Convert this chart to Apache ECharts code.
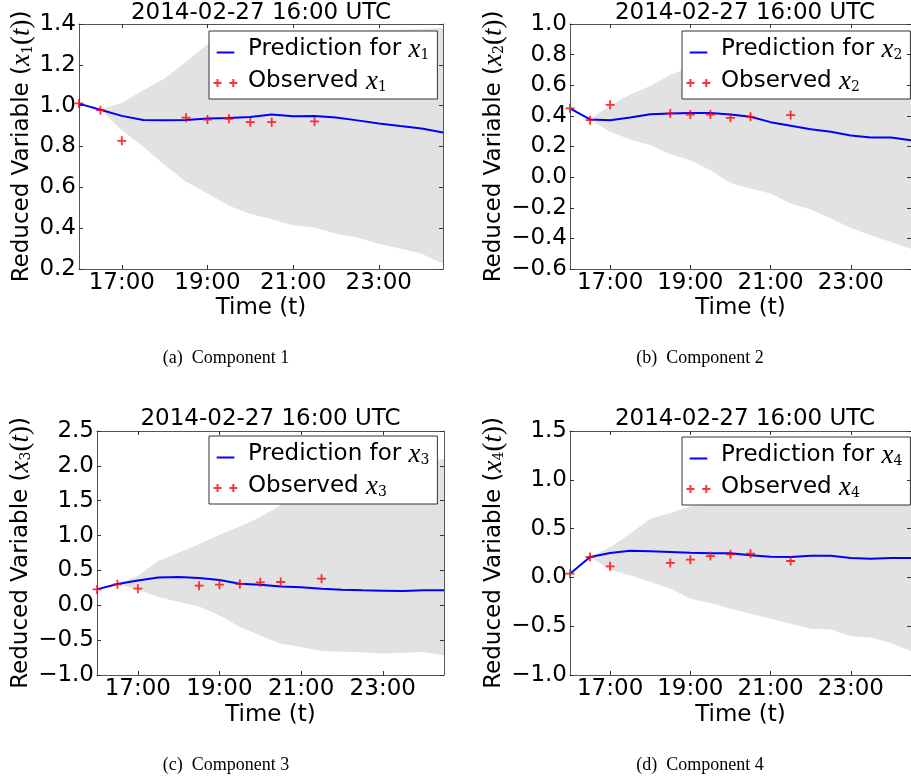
<!DOCTYPE html>
<html>
<head>
<meta charset="utf-8">
<script src="https://cdn.jsdelivr.net/npm/echarts@6/dist/echarts.min.js"></script>
<style>
html, body { margin: 0; padding: 0; background: #fff; }
#chart { width: 911px; height: 780px; }
</style>
</head>
<body>
<div id="chart"></div>
<script>
// Half-hourly forecast times starting at 16:00 UTC
const times = ['16:00', '16:30', '17:00', '17:30', '18:00', '18:30', '19:00', '19:30', '20:00',
  '20:30', '21:00', '21:30', '22:00', '22:30', '23:00', '23:30', '00:00', '00:30'];
const labelledTimes = ['17:00', '19:00', '21:00', '23:00'];
const obsTimes = ['16:00', '16:30', '17:00', '18:30', '19:00', '19:30', '20:00', '20:30', '21:30'];

// Component 1
const pred1 = [1.01, 0.98, 0.95, 0.93, 0.928, 0.93, 0.937, 0.94, 0.945, 0.957, 0.948, 0.949, 0.942, 0.928, 0.913, 0.9, 0.888, 0.869];
const lower1 = [1.01, 0.98, 0.88, 0.80, 0.71, 0.627, 0.57, 0.51, 0.47, 0.444, 0.414, 0.403, 0.373, 0.354, 0.324, 0.30, 0.275, 0.226];
const upper1 = [1.01, 0.98, 1.014, 1.076, 1.133, 1.215, 1.30, 1.32, 1.33, 1.34, 1.345, 1.355, 1.36, 1.365, 1.37, 1.372, 1.375, 1.38];
const obs1 = [1.011, 0.978, 0.828, 0.941, 0.932, 0.936, 0.919, 0.919, 0.923];

// Component 2
const pred2 = [0.449, 0.377, 0.372, 0.39, 0.411, 0.416, 0.418, 0.418, 0.409, 0.394, 0.359, 0.335, 0.313, 0.296, 0.272, 0.259, 0.259, 0.241];
const lower2 = [0.449, 0.377, 0.296, 0.246, 0.209, 0.15, 0.11, 0.045, -0.038, -0.075, -0.107, -0.173, -0.212, -0.271, -0.332, -0.38, -0.423, -0.467];
const upper2 = [0.449, 0.377, 0.47, 0.54, 0.595, 0.667, 0.72, 0.75, 0.77, 0.79, 0.80, 0.81, 0.82, 0.83, 0.84, 0.85, 0.86, 0.87];
const obs2 = [0.449, 0.372, 0.472, 0.416, 0.409, 0.409, 0.387, 0.394, 0.405];

// Component 3
const pred3 = [0.228, 0.305, 0.357, 0.40, 0.405, 0.39, 0.362, 0.31, 0.295, 0.271, 0.257, 0.238, 0.224, 0.214, 0.209, 0.204, 0.214, 0.214];
const lower3 = [0.228, 0.305, 0.224, 0.118, 0.047, -0.016, -0.145, -0.312, -0.432, -0.551, -0.60, -0.656, -0.666, -0.675, -0.695, -0.68, -0.67, -0.718];
const upper3 = [0.228, 0.305, 0.42, 0.635, 0.754, 0.874, 1.013, 1.13, 1.266, 1.44, 1.6, 1.72, 1.82, 1.9, 1.96, 2.02, 2.07, 2.10];
const obs3 = [0.228, 0.30, 0.238, 0.281, 0.295, 0.305, 0.329, 0.334, 0.381];

// Component 4
const pred4 = [0.038, 0.209, 0.25, 0.274, 0.267, 0.26, 0.253, 0.247, 0.247, 0.226, 0.212, 0.209, 0.223, 0.223, 0.199, 0.192, 0.199, 0.199];
const lower4 = [0.038, 0.209, 0.079, 0.021, -0.047, -0.115, -0.218, -0.262, -0.32, -0.372, -0.423, -0.474, -0.525, -0.535, -0.604, -0.617, -0.672, -0.754];
const upper4 = [0.038, 0.209, 0.31, 0.448, 0.602, 0.66, 0.728, 0.75, 0.77, 0.79, 0.80, 0.81, 0.82, 0.83, 0.84, 0.85, 0.86, 0.87];
const obs4 = [0.038, 0.209, 0.113, 0.148, 0.182, 0.219, 0.236, 0.243, 0.168];

const titleText = '2014-02-27 16:00 UTC';
const captions = ['(a)  Component 1', '(b)  Component 2', '(c)  Component 3', '(d)  Component 4'];

// Layout of the four panels
const panels = [
  { k: 1, pred: pred1, lo: lower1, hi: upper1, obs: obs1, min: 0.2, max: 1.4, step: 0.2,
    grid: { left: 79, top: 24, width: 364, height: 245 }, yGap: 43, xGap: 28,
    legend: { left: 209, top: 31 }, title: { x: 261, y: 2 }, caption: { x: 226, y: 349 } },
  { k: 2, pred: pred2, lo: lower2, hi: upper2, obs: obs2, min: -0.6, max: 1.0, step: 0.2,
    grid: { left: 570, top: 24, width: 349, height: 245 }, yGap: 60, xGap: 28,
    legend: { left: 682, top: 31 }, title: { x: 745, y: 2 }, caption: { x: 700, y: 349 } },
  { k: 3, pred: pred3, lo: lower3, hi: upper3, obs: obs3, min: -1.0, max: 2.5, step: 0.5,
    grid: { left: 97, top: 431, width: 347, height: 244 }, yGap: 58, xGap: 29,
    legend: { left: 209, top: 436 }, title: { x: 270.5, y: 408 }, caption: { x: 226, y: 756 } },
  { k: 4, pred: pred4, lo: lower4, hi: upper4, obs: obs4, min: -1.0, max: 1.5, step: 0.5,
    grid: { left: 570, top: 431, width: 349, height: 244 }, yGap: 60, xGap: 29,
    legend: { left: 682, top: 437 }, title: { x: 745, y: 408 }, caption: { x: 700, y: 756 } }
];

const SANS = 'DejaVu Sans';
const MATH = 'Liberation Serif';
const FRAME = '#555';
const BAND = '#e2e2e2';

const plusSymbol = 'path://M4,0h2v4h4v2h-4v4h-2v-4h-4v-2h4z';
const lineIcon = 'path://M0,0M30,12M3.7,8h17.6v2h-17.6z';
const plusIcon = 'path://M0,0M30,12M3.5,3.6h2v3h3v2h-3v3h-2v-3h-3v-2h3z M19.3,3.6h2v3h3v2h-3v3h-2v-3h-3v-2h3z';

// Text styles: sans text, italic math symbols, upright math parens and a lowered subscript
const mathRich = {
  t: { fontFamily: SANS, fontSize: 23, lineHeight: 26, color: '#000' },
  m: { fontFamily: MATH, fontStyle: 'italic', fontSize: 27, lineHeight: 26, color: '#000' },
  r: { fontFamily: MATH, fontSize: 27, lineHeight: 26, color: '#000' },
  s: { fontFamily: 'DejaVu Serif', fontSize: 14, lineHeight: 16, verticalAlign: 'bottom', color: '#000' }
};

const tickFormatter = v => (Math.abs(v) < 1e-9 ? '0.0' : v.toFixed(1).replace('-', '\u2212'));
const showTime = (idx, value) => labelledTimes.indexOf(value) >= 0;

const option = {
  animation: false,
  backgroundColor: '#fff',
  grid: [], xAxis: [], yAxis: [], series: [], legend: [], graphic: []
};

panels.forEach((p, i) => {
  const sub = String(p.k);
  option.grid.push(Object.assign({ show: false, containLabel: false }, p.grid));

  const xBase = {
    type: 'category', data: times, gridIndex: i, boundaryGap: false, z: 5,
    axisLine: { show: true, onZero: false, lineStyle: { color: FRAME, width: 1 } },
    axisTick: { show: true, inside: true, length: 4, interval: showTime, lineStyle: { color: '#333' } },
    splitLine: { show: false }
  };
  option.xAxis.push(Object.assign({}, xBase, {
    position: 'bottom',
    axisLabel: { interval: showTime, margin: 3, fontFamily: SANS, fontSize: 23, color: '#000' },
    name: 'Time (t)', nameLocation: 'middle', nameGap: p.xGap,
    nameTextStyle: { fontFamily: SANS, fontSize: 23, color: '#000', verticalAlign: 'top' }
  }));
  option.xAxis.push(Object.assign({}, xBase, { position: 'top', axisLabel: { show: false } }));

  const yBase = {
    type: 'value', gridIndex: i, min: p.min, max: p.max, interval: p.step, z: 5,
    axisLine: { show: true, onZero: false, lineStyle: { color: FRAME, width: 1 } },
    axisTick: { show: true, inside: true, length: 4, lineStyle: { color: '#333' } },
    splitLine: { show: false }
  };
  option.yAxis.push(Object.assign({}, yBase, {
    position: 'left',
    axisLabel: { margin: 3, fontFamily: SANS, fontSize: 23, color: '#000', formatter: tickFormatter },
    name: '{t|Reduced Variable (}{m|x}{s|' + sub + '}{r|(}{m|t}{r|)}{t|)}',
    nameLocation: 'middle', nameGap: p.yGap,
    nameTextStyle: { rich: mathRich }
  }));
  option.yAxis.push(Object.assign({}, yBase, { position: 'right', axisLabel: { show: false } }));

  const xi = i * 2, yi = i * 2;
  const width = p.hi.map((h, j) => h - p.lo[j]);
  const predName = 'Prediction for x' + p.k;
  const obsName = 'Observed x' + p.k;

  option.series.push({
    type: 'line', xAxisIndex: xi, yAxisIndex: yi, data: p.lo, stack: 'band' + i, stackStrategy: 'all',
    symbol: 'none', silent: true, lineStyle: { opacity: 0 }, z: 1
  });
  option.series.push({
    type: 'line', xAxisIndex: xi, yAxisIndex: yi, data: width, stack: 'band' + i, stackStrategy: 'all',
    symbol: 'none', silent: true, lineStyle: { opacity: 0 }, areaStyle: { color: BAND, opacity: 1 }, z: 1
  });
  option.series.push({
    name: predName, type: 'line', xAxisIndex: xi, yAxisIndex: yi, data: p.pred,
    symbol: 'none', color: '#0000ff', lineStyle: { color: '#0000ff', width: 2 }, z: 3
  });
  option.series.push({
    name: obsName, type: 'scatter', xAxisIndex: xi, yAxisIndex: yi,
    data: obsTimes.map((t, j) => [t, p.obs[j]]),
    symbol: plusSymbol, symbolSize: 9, itemStyle: { color: '#ff0000' }, z: 4
  });

  option.legend.push({
    orient: 'vertical', left: p.legend.left, top: p.legend.top,
    padding: [5, 8, 4, 4], itemWidth: 30, itemHeight: 12, itemGap: 5,
    backgroundColor: '#fff', borderColor: '#333', borderWidth: 1, borderRadius: 0,
    selectedMode: false, itemStyle: { borderWidth: 0 },
    data: [{ name: predName, icon: lineIcon }, { name: obsName, icon: plusIcon }],
    formatter: name => (name.indexOf('Prediction') === 0
      ? '{t|Prediction for }{m|x}{s|' + sub + '}'
      : '{t|Observed }{m|x}{s|' + sub + '}'),
    textStyle: { rich: mathRich }
  });

  option.graphic.push({
    type: 'text', x: p.title.x, y: p.title.y, z: 10,
    style: { text: titleText, align: 'center', verticalAlign: 'top', font: '23px "DejaVu Sans"', fill: '#000' }
  });
  option.graphic.push({
    type: 'text', x: p.caption.x, y: p.caption.y, z: 10,
    style: { text: captions[i], align: 'center', verticalAlign: 'top', font: '18px "Liberation Serif"', fill: '#000' }
  });
});

const chart = echarts.init(document.getElementById('chart'), null, { renderer: 'canvas' });
chart.setOption(option);
</script>
</body>
</html>
